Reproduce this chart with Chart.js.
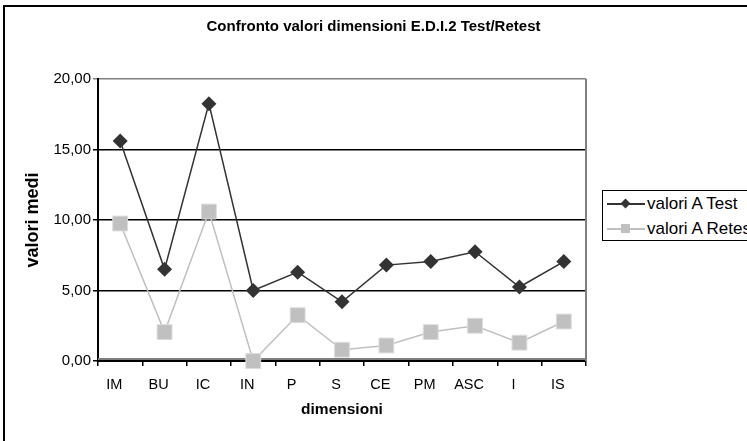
<!DOCTYPE html>
<html>
<head>
<meta charset="utf-8">
<script src="https://cdn.jsdelivr.net/npm/chart.js@4"></script>
<style>
  html, body { margin: 0; padding: 0; background: #fff; overflow: hidden; }
  #wrap { position: relative; width: 747px; height: 441px; }
  #frame { position: absolute; left: 3px; top: 5px; width: 744px; height: 436px;
           border-top: 2px solid #000; border-left: 2px solid #000; pointer-events: none; }
  #legend { position: absolute; left: 602px; top: 190px; width: 180px; height: 49px;
            border: 1.5px solid #000; background: #fff;
            font: 17px Arial, "Liberation Sans", sans-serif; color: #000; }
  .item { position: absolute; left: 0; height: 20px; line-height: 20px; white-space: nowrap; }
  .line { position: absolute; left: 4px; top: 9px; width: 38px; height: 2px; }
  .mark { position: absolute; left: 19px; top: 6px; width: 7px; height: 7px; }
  .txt { position: absolute; left: 44px; top: 0; }
</style>
</head>
<body>
<div id="wrap">
  <canvas id="chart" width="747" height="441"></canvas>
  <div id="frame"></div>
  <div id="legend">
    <div class="item" style="top:3px">
      <div class="line" style="background:#333"></div>
      <div class="mark" style="background:#333;transform:rotate(45deg)"></div>
      <span class="txt">valori A Test</span>
    </div>
    <div class="item" style="top:28px">
      <div class="line" style="background:#c0c0c0"></div>
      <div class="mark" style="background:#c0c0c0;left:18px;top:5px;width:9px;height:9px"></div>
      <span class="txt">valori A Retest</span>
    </div>
  </div>
</div>
<script>
const labels = ['IM', 'BU', 'IC', 'IN', 'P', 'S', 'CE', 'PM', 'ASC', 'I', 'IS'];
const testValues = [15.6, 6.5, 18.25, 5.0, 6.3, 4.2, 6.8, 7.05, 7.75, 5.25, 7.05];
const retestValues = [9.75, 2.05, 10.6, 0.0, 3.25, 0.8, 1.1, 2.05, 2.5, 1.3, 2.8];
const yTicks = [0, 5, 10, 15, 20];

const FONT = 'Arial, "Liberation Sans", sans-serif';

// gray plot-area border on the right and just above the x axis
const plotBorder = {
  id: 'plotBorder',
  beforeDatasetsDraw(chart) {
    const { ctx, chartArea: a } = chart;
    ctx.save();
    ctx.strokeStyle = '#808080';
    ctx.lineWidth = 2;
    ctx.beginPath();
    ctx.moveTo(a.right, a.top);
    ctx.lineTo(a.right, a.bottom);
    ctx.moveTo(a.left, a.bottom - 2);
    ctx.lineTo(a.right, a.bottom - 2);
    ctx.stroke();
    ctx.restore();
  }
};

new Chart(document.getElementById('chart'), {
  type: 'line',
  data: {
    labels,
    datasets: [
      {
        label: 'valori A Test',
        data: testValues,
        borderColor: '#333333',
        backgroundColor: '#333333',
        borderWidth: 1.5,
        pointStyle: 'rectRot',
        pointRadius: 7.5,
        pointHoverRadius: 7.5,
        pointBorderWidth: 0,
        tension: 0,
        clip: false
      },
      {
        label: 'valori A Retest',
        data: retestValues,
        borderColor: '#c0c0c0',
        backgroundColor: '#c0c0c0',
        pointBorderColor: '#dcdcdc',
        borderWidth: 1.5,
        pointStyle: 'rect',
        pointRadius: 10.5,
        pointHoverRadius: 10.5,
        pointBorderWidth: 1,
        tension: 0,
        clip: false
      }
    ]
  },
  options: {
    responsive: false,
    animation: false,
    layout: { padding: { left: 0, right: 0, top: 10, bottom: 20 } },
    plugins: {
      legend: { display: false },
      tooltip: { enabled: false },
      title: {
        display: true,
        text: 'Confronto valori dimensioni E.D.I.2 Test/Retest',
        color: '#000',
        font: { family: FONT, size: 15, weight: 'bold' },
        padding: { top: 8, bottom: 43 }
      }
    },
    scales: {
      x: {
        offset: true,
        grid: { offset: true, drawOnChartArea: false, drawTicks: true, tickLength: 5, color: '#000', lineWidth: 1.5 },
        border: { color: '#000', width: 2 },
        ticks: { color: '#000', font: { family: FONT, size: 14.5 }, padding: 10, labelOffset: -6, maxRotation: 0, autoSkip: false },
        title: { display: true, text: 'dimensioni', color: '#000', font: { family: FONT, size: 15.5, weight: 'bold' }, padding: { top: 4, bottom: 2 } },
        afterFit(scale) { scale.height = 60; }
      },
      y: {
        min: 0,
        max: 20,
        afterBuildTicks(scale) { scale.ticks = yTicks.map(v => ({ value: v })); },
        grid: {
          color: ctx => (ctx.tick && ctx.tick.value === 20 ? '#808080' : '#000'),
          lineWidth: 1.5,
          tickLength: 5
        },
        border: { color: '#000', width: 2 },
        ticks: {
          color: '#000',
          font: { family: FONT, size: 15 },
          padding: 2,
          callback: v => v.toFixed(2).replace('.', ',')
        },
        title: { display: true, text: 'valori medi', color: '#000', font: { family: FONT, size: 18, weight: 'bold' }, padding: { top: 22, bottom: 4 } },
        afterFit(scale) { scale.width = 98; }
      },
      // empty right-hand box that keeps the plot clear of the legend
      side: {
        type: 'linear',
        position: 'right',
        display: true,
        grid: { display: false },
        border: { display: false },
        ticks: { display: false },
        afterFit(scale) { scale.width = 161; }
      }
    }
  },
  plugins: [plotBorder]
});
</script>
</body>
</html>
